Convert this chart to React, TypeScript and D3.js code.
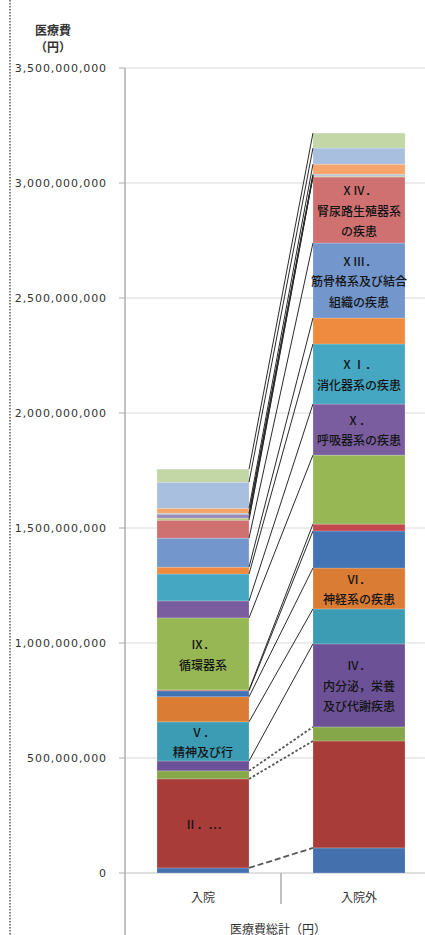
import React from "react";
import * as d3 from "d3";

const categories = ["入院", "入院外"];
const seriesNames = [
  "Ⅰ．感染症及び寄生虫症", "Ⅱ．新生物", "Ⅲ．血液及び造血器の疾患", "Ⅳ．内分泌，栄養及び代謝疾患",
  "Ⅴ．精神及び行動の障害", "Ⅵ．神経系の疾患", "Ⅶ．眼及び付属器の疾患", "Ⅷ．耳及び乳様突起の疾患",
  "Ⅸ．循環器系の疾患", "Ⅹ．呼吸器系の疾患", "ⅩⅠ．消化器系の疾患", "ⅩⅡ．皮膚及び皮下組織の疾患",
  "ⅩⅢ．筋骨格系及び結合組織の疾患", "ⅩⅣ．腎尿路生殖器系の疾患", "ⅩⅤ．妊娠，分娩及び産じょく",
  "ⅩⅥ．周産期に発生した病態", "ⅩⅦ．先天奇形，変形及び染色体異常", "ⅩⅧ．症状，徴候及び異常臨床所見",
  "ⅩⅨ．損傷，中毒及びその他の外因の影響", "その他",
];
// values in yen (millions * 1e6)
const inpatientValues = [22, 387, 35, 43, 170, 109, 26, 4, 313, 74, 117, 30, 126, 78, 9, 17, 4, 22, 113, 57].map((v) => v * 1e6);
const outpatientValues = [109, 465, 61, 361, 152, 178, 161, 30, 300, 222, 261, 113, 326, 287, 4, 4, 4, 44, 70, 65].map((v) => v * 1e6);
const seriesColors = [
  "#4470AD", "#A83C39", "#86A749", "#6D5196", "#3C9CB4", "#DA7C34", "#4273B2", "#C24A4E",
  "#97B755", "#7A5D9F", "#45A7C2", "#EF8B3E", "#7397CC", "#CF7170", "#B4CC88", "#9C88BA",
  "#76C0D4", "#F6A66C", "#A9BFE0", "#C3D6A5",
];
const inpatientLabels: (string[] | null)[] = [
  null, ["Ⅱ．…"], null, null, ["Ⅴ．", "精神及び行"], null, null, null, ["Ⅸ．", "循環器系"],
  null, null, null, null, null, null, null, null, null, null, null,
];
const outpatientLabels: (string[] | null)[] = [
  null, null, null, ["Ⅳ．", "内分泌，栄養", "及び代謝疾患"], null, ["Ⅵ．", "神経系の疾患"], null, null, null,
  ["Ⅹ．", "呼吸器系の疾患"], ["ⅩⅠ．", "消化器系の疾患"], null, ["ⅩⅢ．", "筋骨格系及び結合", "組織の疾患"],
  ["ⅩⅣ．", "腎尿路生殖器系", "の疾患"], null, null, null, null, null, null,
];
const yTicks = [0, 500000000, 1000000000, 1500000000, 2000000000, 2500000000, 3000000000, 3500000000];
const yTitle = ["医療費", "（円）"];
const xTitle = "医療費総計（円）";

const W = 425;
const H = 935;
const JP = "'Noto Sans CJK JP', 'Noto Sans', sans-serif";

export default function App() {
  const plotLeft = 125;
  const plotRight = 437;
  const y = d3.scaleLinear().domain([0, 3500000000]).range([873, 68]);
  const x = d3.scaleBand<string>().domain(categories).range([plotLeft, plotRight]).paddingInner(0.41).paddingOuter(0.205);
  const bw = x.bandwidth();

  const rows = categories.map((c, ci) => {
    const r: any = { cat: c };
    seriesNames.forEach((_, si) => {
      r["s" + si] = ci === 0 ? inpatientValues[si] : outpatientValues[si];
    });
    return r;
  });
  const keys = seriesNames.map((_, si) => "s" + si);
  const stacked = d3.stack<any>().keys(keys)(rows);
  const labels = [inpatientLabels, outpatientLabels];
  const fmt = d3.format(",");

  const xl = (x(categories[0]) as number) + bw;
  const xr = x(categories[1]) as number;

  return (
    <svg width={W} height={H} style={{ position: "absolute", left: 0, top: 0, background: "#fff" }}>
      <line x1={10} x2={10} y1={0} y2={H} stroke="#555" strokeWidth={1.5} strokeDasharray="1.5,1.5" />
      {yTicks.map((t) => (
        <line key={"g" + t} x1={plotLeft} x2={W} y1={y(t)} y2={y(t)} stroke={t === 0 ? "#BFBFBF" : "#D9D9D9"} strokeWidth={1} />
      ))}
      <line x1={plotLeft} x2={plotLeft} y1={y(3500000000)} y2={H} stroke="#ADADAD" strokeWidth={1.5} />
      {yTicks.map((t) => (
        <g key={"t" + t}>
          <line x1={plotLeft - 6} x2={plotLeft} y1={y(t)} y2={y(t)} stroke="#ADADAD" strokeWidth={1} />
          <text x={107} y={y(t)} textAnchor="end" dominantBaseline="central" fontFamily="'DejaVu Sans', sans-serif" fontSize={11} letterSpacing={0.9} fill="#333">
            {fmt(t)}
          </text>
        </g>
      ))}
      <line x1={281} x2={281} y1={y(0)} y2={904} stroke="#ADADAD" strokeWidth={1.5} />
      {stacked.map((layer, si) => (
        <g key={"l" + si}>
          {layer.map((d, ci) => (
            <rect key={ci} x={x(categories[ci]) as number} y={y(d[1])} width={bw} height={Math.max(0, y(d[0]) - y(d[1]))} fill={seriesColors[si]} stroke="#ffffff" strokeOpacity={0.35} strokeWidth={0.6} />
          ))}
        </g>
      ))}
      {stacked.map((layer, si) => {
        const dash = si === 0 ? "6,3" : si <= 2 ? "2.5,2" : undefined;
        const sw = si <= 2 ? 1.8 : 1;
        return (
          <line key={"c" + si} x1={xl} y1={y(layer[0][1])} x2={xr} y2={y(layer[1][1])} stroke={si <= 2 ? "#555" : "#2a2a2a"} strokeWidth={sw} strokeDasharray={dash} />
        );
      })}
      {stacked.map((layer, si) =>
        layer.map((d, ci) => {
          const lines = labels[ci][si];
          if (!lines) return null;
          const cy = (y(d[0]) + y(d[1])) / 2;
          const cx = (x(categories[ci]) as number) + bw / 2;
          return (
            <text key={"t" + si + "-" + ci} x={cx} textAnchor="middle" fontFamily={JP} fontSize={12} fontWeight={500} fill="#141414">
              {lines.map((ln, li) => (
                <tspan key={li} x={cx} y={cy + (li - (lines.length - 1) / 2) * 20.5} dominantBaseline="central">
                  {ln}
                </tspan>
              ))}
            </text>
          );
        })
      )}
      {categories.map((c) => (
        <text key={c} x={(x(c) as number) + bw / 2} y={896} textAnchor="middle" dominantBaseline="central" fontFamily={JP} fontSize={12} fill="#333">
          {c}
        </text>
      ))}
      <text x={278} y={928} textAnchor="middle" dominantBaseline="central" fontFamily={JP} fontSize={12} fill="#333">
        {xTitle}
      </text>
      <text x={53} y={29} textAnchor="middle" dominantBaseline="central" fontFamily={JP} fontSize={12} fontWeight="bold" fill="#333">
        {yTitle[0]}
      </text>
      <text x={53} y={46} textAnchor="middle" dominantBaseline="central" fontFamily={JP} fontSize={12} fontWeight="bold" fill="#333">
        {yTitle[1]}
      </text>
    </svg>
  );
}
